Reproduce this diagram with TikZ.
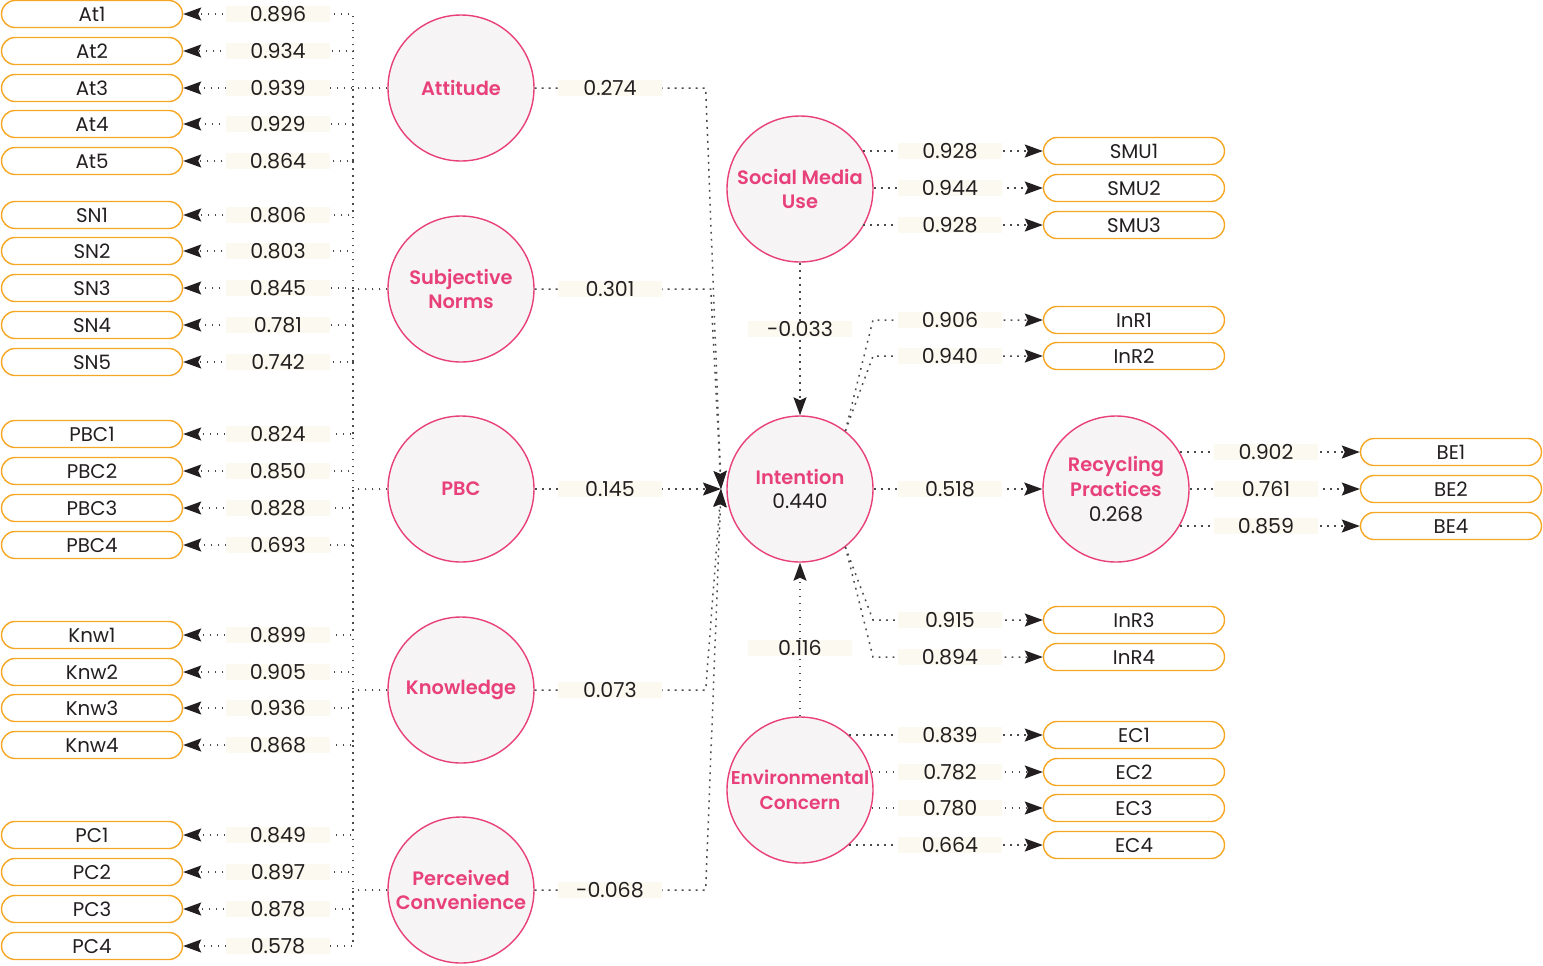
\documentclass[tikz,border=0pt]{standalone}
\usepackage{fontspec}
\setmainfont{Poppins}[BoldFont={Poppins SemiBold}]
\usetikzlibrary{arrows.meta,calc}
\definecolor{pk}{HTML}{E8407A}
\definecolor{ob}{HTML}{F5A623}
\definecolor{cf}{HTML}{F6F4F5}
\definecolor{lf}{HTML}{FCF9F0}
\definecolor{ln}{HTML}{4A4A4A}
\definecolor{tx}{HTML}{231F20}
\begin{document}
\begin{tikzpicture}[x=0.5pt,y=-0.5pt,
 ind/.style={draw=ob, line width=0.7pt, rounded corners=6.75pt, minimum width=90.5pt, minimum height=13.5pt, inner sep=0pt, text=tx, font=\fontsize{9.9}{11}\selectfont},
 lat/.style={circle, draw=pk, line width=0.7pt, fill=cf, minimum size=73pt, inner sep=0pt, align=center, text=pk, font=\fontsize{9.7}{12.3}\selectfont\bfseries},
 val/.style={fill=lf, minimum width=52pt, minimum height=8pt, inner sep=0pt, text height=7pt, text depth=0pt, text=tx, font=\fontsize{10.3}{11}\selectfont},
 conn/.style={draw=ln, line width=0.75pt, dash pattern=on 0.9pt off 2.6pt},
 arr/.style={conn, -{Stealth[length=9pt,width=6.5pt,inset=1.5pt,color=tx]}}]
\useasboundingbox (0,0) rectangle (1543,965);
\coordinate (sp) at (353,0);
\coordinate (eb) at (873,0);
\coordinate (cv) at (721,489);
% latent variables
\node[lat] (att) at (461,88) {Attitude};
\node[lat] (sn) at (461,289) {Subjective\\Norms};
\node[lat] (pbc) at (461,489) {PBC};
\node[lat] (knw) at (461,690) {Knowledge};
\node[lat] (pc) at (461,890) {Perceived\\Convenience};
\node[lat] (smu) at (800,189) {Social Media\\Use};
\node[lat] (int) at (800,489) {Intention\\{\mdseries\color{tx}\fontsize{10.1}{12.3}\selectfont 0.440}};
\node[lat] (rp) at (1116,489) {Recycling\\Practices\\{\mdseries\color{tx}\fontsize{10.1}{12.3}\selectfont 0.268}};
\node[lat, font=\fontsize{9.3}{12.3}\selectfont\bfseries] (ec) at (800,790) {Environmental\\Concern};
% left indicators
\foreach \n/\y/\v/\l in {At1/14/0.896/att,At2/51/0.934/att,At3/88/0.939/att,At4/124/0.929/att,At5/161/0.864/att,
  SN1/215/0.806/sn,SN2/251/0.803/sn,SN3/288/0.845/sn,SN4/325/0.781/sn,SN5/362/0.742/sn,
  PBC1/434/0.824/pbc,PBC2/471/0.850/pbc,PBC3/508/0.828/pbc,PBC4/545/0.693/pbc,
  Knw1/635/0.899/knw,Knw2/672/0.905/knw,Knw3/708/0.936/knw,Knw4/745/0.868/knw,
  PC1/835/0.849/pc,PC2/872/0.897/pc,PC3/909/0.878/pc,PC4/946/0.578/pc}{
  \node[ind] (\n) at (92,\y) {\n};
  \draw[arr] (\l.west) -- (\l.west -| sp) |- (\n.east);
  \node[val] (v\n) at (278,\y) {\v};
}
\draw[conn] (At5.east -| sp) -- (SN1.east -| sp);
\draw[conn] (SN5.east -| sp) -- (PBC1.east -| sp);
\draw[conn] (PBC4.east -| sp) -- (Knw1.east -| sp);
\draw[conn] (Knw4.east -| sp) -- (PC1.east -| sp);
% structural paths to intention
\draw[arr] (att.east) -- ++(171,0) -- (cv);
\draw[arr] (sn.east) -- ++(176,0) -- (cv);
\draw[arr] (pbc.east) -- (cv);
\draw[arr] (knw.east) -- ++(171,0) -- (cv);
\draw[arr] (pc.east) -- ++(171,0) -- (cv);
\node[val] (s1) at (610,88) {0.274};
\node[val] (s2) at (610,289) {0.301};
\node[val] (s3) at (610,489) {0.145};
\node[val] (s4) at (610,690) {0.073};
\node[val] (s5) at (610,890) {-0.068};
\draw[arr] (smu.south) -- (int.north);
\node[val] (s6) at (800,329) {-0.033};
\draw[arr] (ec.north) -- (int.south);
\node[val] (s7) at (800,648) {0.116};
\draw[arr] (int.east) -- (rp.west);
\node[val] (s8) at (950,489) {0.518};
% SMU indicators
\foreach \n/\y/\v/\a in {SMU1/151/0.928/31.4,SMU2/188/0.944/0,SMU3/225/0.928/-31.4}{
  \node[ind] (\n) at (1134,\y) {\n};
  \draw[arr] (\n.west -| smu.\a) -- (\n.west);
  \node[val] (v\n) at (950,\y) {\v};
}
% Intention indicators
\foreach \n/\y/\v/\a in {InR1/320/0.906/52,InR2/356/0.940/52,InR3/620/0.915/-52,InR4/657/0.894/-52}{
  \node[ind] (\n) at (1134,\y) {\n};
  \draw[arr] (int.\a) -- (\n.west -| eb) -- (\n.west);
  \node[val] (v\n) at (950,\y) {\v};
}
% EC indicators
\foreach \n/\y/\v/\a in {EC1/735/0.839/48.9,EC2/772/0.782/14.3,EC3/808/0.780/-14.3,EC4/845/0.664/-48.9}{
  \node[ind] (\n) at (1134,\y) {\n};
  \draw[arr] (\n.west -| ec.\a) -- (\n.west);
  \node[val] (v\n) at (950,\y) {\v};
}
% RP indicators
\foreach \n/\y/\v/\a in {BE1/452/0.902/30.5,BE2/489/0.761/0,BE4/526/0.859/-30.5}{
  \node[ind] (\n) at (1451,\y) {\n};
  \draw[arr] (\n.west -| rp.\a) -- (\n.west);
  \node[val] (v\n) at (1266,\y) {\v};
}
\end{tikzpicture}
\end{document}
